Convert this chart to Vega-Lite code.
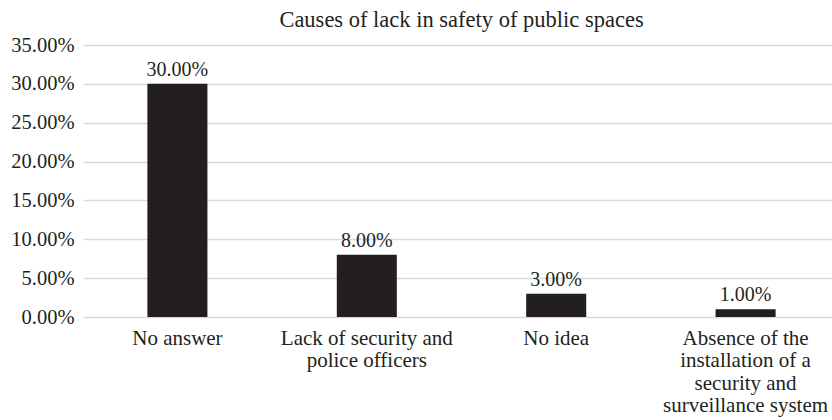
{
  "$schema": "https://vega.github.io/schema/vega-lite/v6.json",
  "autosize": "none",
  "width": 757,
  "height": 272,
  "padding": {"left": 83, "top": 45, "right": 0, "bottom": 103},
  "background": "white",
  "title": {
    "text": "Causes of lack in safety of public spaces",
    "font": "Liberation Serif",
    "fontSize": 22.5,
    "fontWeight": "normal",
    "color": "#231f20",
    "anchor": "middle",
    "offset": 4
  },
  "data": {
    "values": [
      {"cause": "No answer", "share": 0.30},
      {"cause": "Lack of security and police officers", "share": 0.08},
      {"cause": "No idea", "share": 0.03},
      {"cause": "Absence of the installation of a security and surveillance system", "share": 0.01}
    ]
  },
  "config": {
    "view": {"stroke": null},
    "axis": {"labelFont": "Liberation Serif", "labelColor": "#231f20"}
  },
  "encoding": {
    "x": {
      "field": "cause",
      "type": "nominal",
      "sort": null,
      "scale": {"paddingInner": 0.683, "paddingOuter": 0.34},
      "axis": {
        "title": null,
        "labelAngle": 0,
        "labelFontSize": 21,
        "domain": false,
        "ticks": false,
        "labelPadding": 10,
        "labelLineHeight": 22.5,
        "labelLimit": 300,
        "labelExpr": "datum.value == 'Lack of security and police officers' ? ['Lack of security and', 'police officers'] : datum.value == 'Absence of the installation of a security and surveillance system' ? ['Absence of the', 'installation of a', 'security and', 'surveillance system'] : datum.value"
      }
    },
    "y": {
      "field": "share",
      "type": "quantitative",
      "scale": {"domain": [0, 0.35]},
      "axis": {
        "title": null,
        "format": ".2%",
        "labelFontSize": 20.5,
        "values": [0, 0.05, 0.1, 0.15, 0.2, 0.25, 0.3, 0.35],
        "domain": false,
        "ticks": false,
        "labelPadding": 9,
        "gridColor": "#d9d9d9",
        "gridWidth": 1.5
      }
    }
  },
  "layer": [
    {"mark": {"type": "bar", "color": "#231f20"}},
    {
      "mark": {"type": "text", "baseline": "alphabetic", "dy": -8, "font": "Liberation Serif", "fontSize": 20, "color": "#231f20"},
      "encoding": {"text": {"field": "share", "type": "quantitative", "format": ".2%"}}
    }
  ]
}
